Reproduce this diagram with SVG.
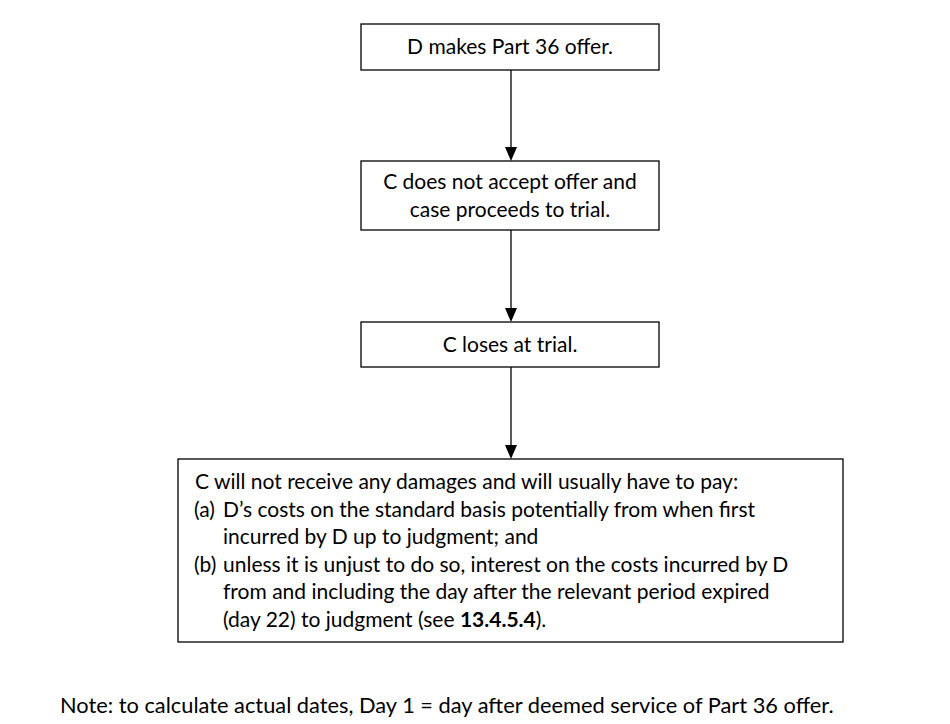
<svg xmlns="http://www.w3.org/2000/svg" width="950" height="724" viewBox="0 0 950 724">
<style>
.box{fill:#fff;stroke:#000;stroke-width:1.3}
.t{font-family:Lato,"Open Sans",sans-serif;font-size:21px;fill:#000}
.c{text-anchor:middle}
.edge{stroke:#000;stroke-width:1.3;fill:none}
.ah{fill:#000}
</style>
<rect width="950" height="724" fill="#fff"/>
<g id="connectors">
<line class="edge" x1="511" y1="70" x2="511" y2="148"/>
<path class="ah" d="M505,147 L517,147 L511,161 Z"/>
<line class="edge" x1="511" y1="230" x2="511" y2="309"/>
<path class="ah" d="M505,308 L517,308 L511,322 Z"/>
<line class="edge" x1="511" y1="367" x2="511" y2="446"/>
<path class="ah" d="M505,445 L517,445 L511,459 Z"/>
</g>
<g id="n1">
<rect class="box" x="361" y="24" width="298" height="46"/>
<text class="t c" x="510" y="54">D makes Part 36 offer.</text>
</g>
<g id="n2">
<rect class="box" x="361" y="161" width="298" height="69"/>
<text class="t c" x="510" y="189">C does not accept offer and</text>
<text class="t c" x="510" y="217">case proceeds to trial.</text>
</g>
<g id="n3">
<rect class="box" x="361" y="322" width="298" height="45"/>
<text class="t c" x="510" y="352">C loses at trial.</text>
</g>
<g id="n4">
<rect class="box" x="178" y="459" width="665" height="183"/>
<text class="t" x="195" y="489">C will not receive any damages and will usually have to pay:</text>
<text class="t" x="194" y="517">(a)</text>
<text class="t" x="223" y="517">D’s costs on the standard basis potentially from when first</text>
<text class="t" x="223" y="544">incurred by D up to judgment; and</text>
<text class="t" x="194" y="572">(b)</text>
<text class="t" x="223" y="572">unless it is unjust to do so, interest on the costs incurred by D</text>
<text class="t" x="223" y="599">from and including the day after the relevant period expired</text>
<text class="t" x="223" y="627">(day 22) to judgment (see <tspan font-weight="bold">13.4.5.4</tspan>).</text>
</g>
<g id="note">
<text class="t" x="60" y="713" style="font-size:21.8px">Note: to calculate actual dates, Day 1 = day after deemed service of Part 36 offer.</text>
</g>
</svg>
